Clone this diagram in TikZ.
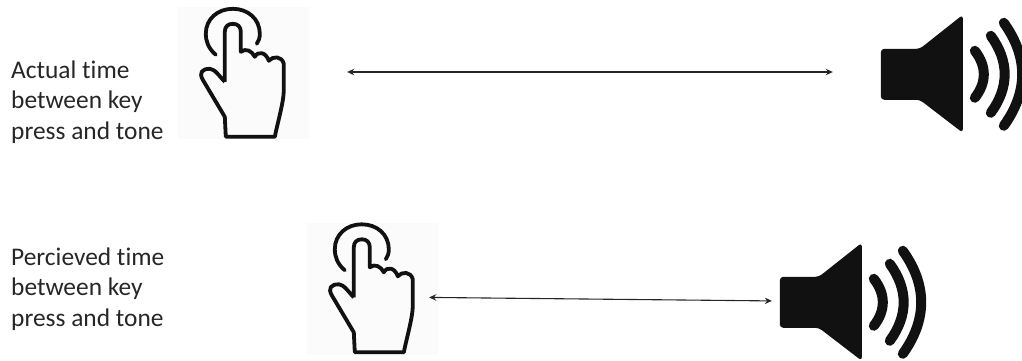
\documentclass[tikz,border=0pt]{standalone}
\usepackage{fontspec}
\setmainfont{Carlito}[Ligatures=NoCommon]
\usepackage{xcolor}
\usetikzlibrary{arrows.meta}
\definecolor{textgray}{HTML}{262626}
\definecolor{iconblack}{HTML}{111111}
\tikzset{
  caption/.style={anchor=west,align=left,inner sep=0pt,text=textgray,font=\fontsize{25.4}{30.5}\selectfont},
  handbox/.style={fill=black!1.5,inner sep=0pt,minimum width=131pt,minimum height=132pt},
  speakerbox/.style={inner sep=0pt,minimum width=141pt,minimum height=114pt},
  timearrow/.style={{Stealth[length=7pt,width=6.5pt]}-{Stealth[length=7pt,width=6.5pt]},line width=1.1pt,black!85},
  handicon/.pic={
    % Ring round the fingertip
    \draw[line width=3.8pt,line cap=round,iconblack] (38,48) .. controls (31,42) and (28,35) .. (28,27)
      .. controls (28,12) and (40,2) .. (55,2) .. controls (70,2) and (82,12) .. (82,27)
      .. controls (82,31) and (81,34) .. (79,37);
    % Hand outline
    \draw[line width=3.8pt,line join=round,iconblack] (47,75) -- (47,25)
      .. controls (47,20) and (50,17) .. (55,17) .. controls (60,17) and (63,20) .. (63,25)
      -- (63,45) .. controls (68,41) and (74,44) .. (77,50)
      .. controls (80,44) and (88,45) .. (91,54)
      .. controls (95,49) and (104,49) .. (106,57)
      -- (106,83) .. controls (106,95) and (100,115) .. (97,130)
      -- (48,130) -- (47,110) -- (25,73)
      .. controls (21,66) and (24,62) .. (32,62) .. controls (37,62) and (42,70) .. (47,75);
  },
  speakericon/.pic={
    % Cone
    \fill[iconblack,rounded corners=3.5pt] (0,32) -- (39,32) -- (82,-2) -- (82,116) -- (39,83) -- (0,83) -- cycle;
    % Sound waves
    \draw[line width=10pt,line cap=round,iconblack] (94,34) .. controls (106,49.3) and (106,65.7) .. (94,81);
    \draw[line width=10pt,line cap=round,iconblack] (110,19) .. controls (128.5,44.3) and (128.5,70.7) .. (110,96);
    \draw[line width=10pt,line cap=round,iconblack] (123,6) .. controls (147.5,40) and (147.5,75) .. (123,109);
  },
}
\begin{document}
\begin{tikzpicture}[x=1pt,y=-1pt]
  \useasboundingbox (0,0) rectangle (1022,360);
  % Upper row
  \node[caption] (actualtext) at (11,102) {Actual time\\between key\\press and tone};
  \node[handbox] (handA) at (243.5,73) {};
  \pic at (handA.north west) {handicon};
  \node[speakerbox] (speakerA) at (951.5,74) {};
  \pic at (speakerA.north west) {speakericon};
  \draw[timearrow,shorten <=38pt,shorten >=48pt] ([yshift=1pt]handA.east) -- ([yshift=2pt]speakerA.west);
  % Lower row
  \node[caption] (percievedtext) at (11,289) {Percieved time\\between key\\press and tone};
  \node[handbox] (handB) at (372.5,288.5) {};
  \pic at (handB.north west) {handicon};
  \node[speakerbox] (speakerB) at (850.5,302) {};
  \pic at (speakerB.north west) {speakericon};
  \draw[timearrow,shorten <=-9pt,shorten >=8pt] ([yshift=-9pt]handB.east) -- ([yshift=1pt]speakerB.west);
\end{tikzpicture}
\end{document}
